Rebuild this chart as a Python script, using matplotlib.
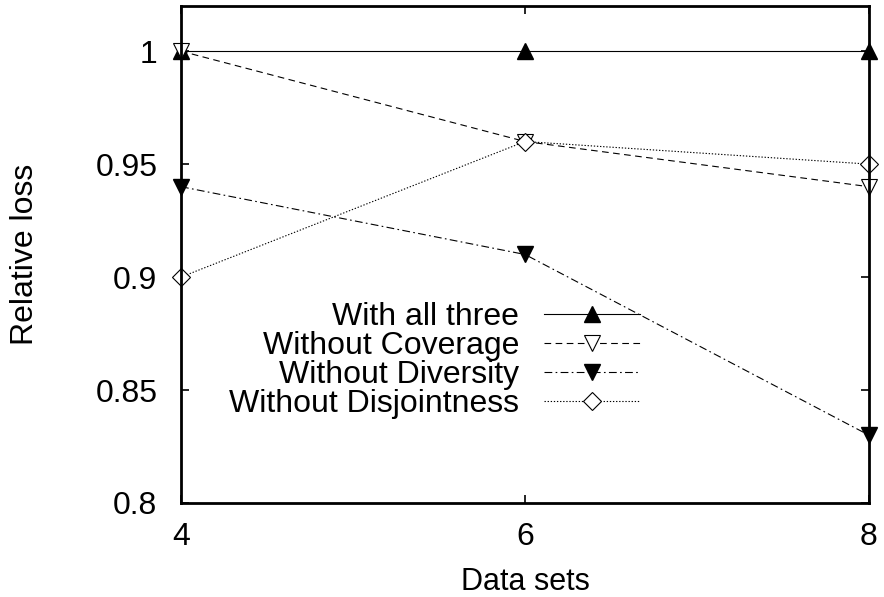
import matplotlib
matplotlib.use("Agg")
import matplotlib.pyplot as plt

plt.rcParams['font.family'] = ['Liberation Sans', 'DejaVu Sans']

data_sets = [4, 6, 8]
with_all_three = [1.0, 1.0, 1.0]
without_coverage = [1.0, 0.96, 0.94]
without_diversity = [0.94, 0.91, 0.83]
without_disjointness = [0.90, 0.96, 0.95]

fig = plt.figure(figsize=(8.84, 5.97), dpi=100)
ax = fig.add_axes([0.2048, 0.1575, 0.7782, 0.8325])

ax.plot(data_sets, with_all_three, color="black", lw=0.8, marker="^", ms=12,
        mfc="black", mec="black", label="With all three", clip_on=False)
ax.plot(data_sets, without_coverage, color="black", lw=0.8, ls=(0, (6, 4)), marker="v", ms=12,
        mfc="white", mec="black", mew=0.8, label="Without Coverage", clip_on=False)
ax.plot(data_sets, without_diversity, color="black", lw=0.8, ls=(0, (7, 3, 1.5, 3)), marker="v", ms=12,
        mfc="black", mec="black", label="Without Diversity", clip_on=False)
ax.plot(data_sets, without_disjointness, color="black", lw=0.8, ls=(0, (1.2, 1.6)), marker="D", ms=9,
        mfc="white", mec="black", mew=0.8, label="Without Disjointness", clip_on=False)

ax.set_xlim(4, 8)
ax.set_ylim(0.8, 1.02)
ax.set_xticks([4, 6, 8])
ax.set_yticks([0.8, 0.85, 0.9, 0.95, 1.0])
ax.set_yticklabels(["0.8", "0.85", "0.9", "0.95", "1"])
ax.tick_params(axis="both", direction="in", length=6, width=1.2, labelsize=23,
               top=True, right=True)
ax.tick_params(axis="y", pad=17)
ax.tick_params(axis="x", pad=14)
for s in ax.spines.values():
    s.set_linewidth(2)

ax.set_xlabel("Data sets", fontsize=22)
ax.set_ylabel("Relative loss", fontsize=23)
ax.xaxis.set_label_coords(0.5, -0.128)
ax.yaxis.set_label_coords(-0.205, 0.5)

ax.legend(loc="center right", bbox_to_anchor=(0.667, 0.287), frameon=False,
          markerfirst=False, fontsize=23, handlelength=3.0, labelspacing=-0.03,
          borderpad=0, borderaxespad=0, handletextpad=0.78)

fig.savefig("out.png", dpi=100)
